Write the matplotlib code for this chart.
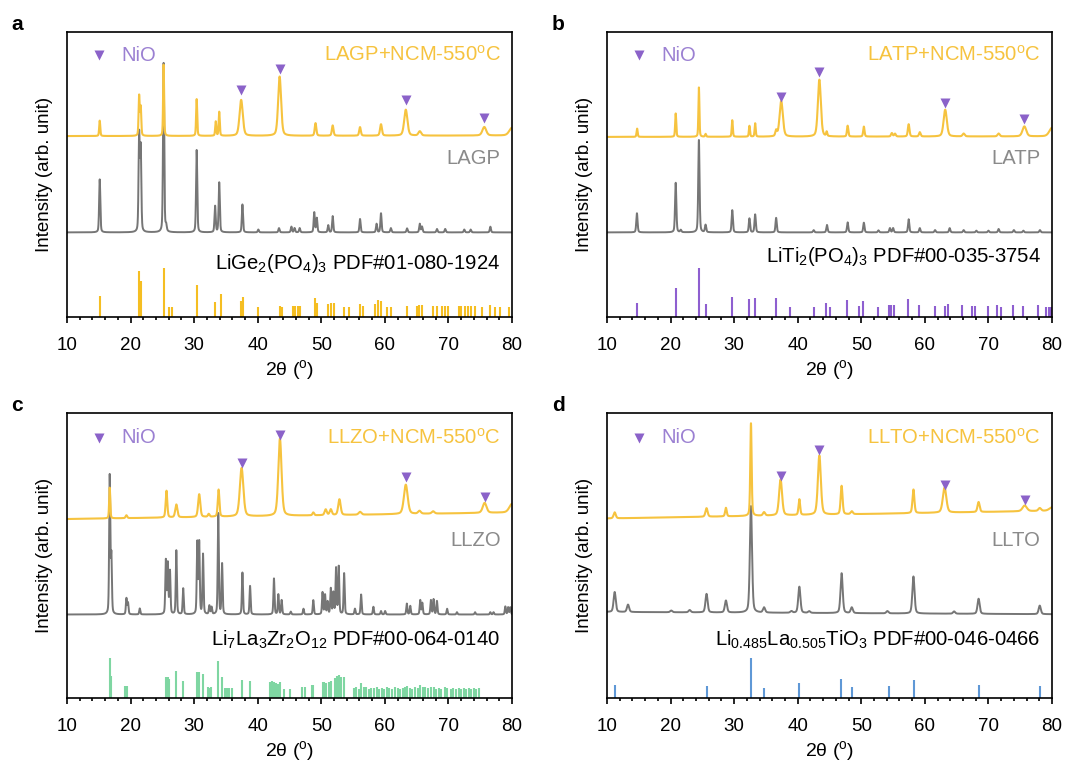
import numpy as np
import matplotlib
matplotlib.use('Agg')
import matplotlib.pyplot as plt
from matplotlib.ticker import MultipleLocator

plt.rcParams['font.family'] = ['Liberation Sans', 'DejaVu Sans']
plt.rcParams['mathtext.fontset'] = 'custom'
plt.rcParams['mathtext.rm'] = 'Liberation Sans'
plt.rcParams['mathtext.it'] = 'Liberation Sans:italic'
plt.rcParams['mathtext.bf'] = 'Liberation Sans:bold'

YELLOW = '#F6C33F'
GRAY = '#767676'
PURPLE = '#8B62C9'
NIO_TXT = '#9B80D2'

# ---------------- panel a : LAGP ----------------
lagp_ncm_pos = [15.15, 21.35, 21.6, 25.2, 30.4, 33.4, 33.95, 37.4, 43.45, 49.1, 51.8, 56.1, 59.4, 63.3, 65.5, 75.65, 80.0]
lagp_ncm_amp = [0.054, 0.14, 0.10, 0.25, 0.129, 0.05, 0.084, 0.126, 0.208, 0.044, 0.036, 0.03, 0.04, 0.091, 0.015, 0.03, 0.027]
lagp_ncm_fw = [0.2, 0.2, 0.2, 0.18, 0.2, 0.2, 0.2, 0.6, 0.55, 0.3, 0.3, 0.3, 0.35, 0.6, 0.5, 0.7, 1.0]
lagp_ncm_base = [0.635, 0.637]

lagp_pos = [15.15, 21.35, 21.6, 25.2, 25.6, 30.4, 33.3, 33.95, 37.6, 40.1, 43.35, 45.3, 45.8, 46.6, 48.9, 49.3, 51.1, 51.8,
            56.1, 58.7, 59.4, 60.95, 63.5, 65.5, 65.85, 68.2, 69.5, 72.5, 73.5, 76.6]
lagp_amp = [0.186, 0.338, 0.29, 0.594, 0.02, 0.289, 0.092, 0.175, 0.098, 0.01, 0.015, 0.02, 0.015, 0.015, 0.07, 0.05, 0.025, 0.057,
            0.047, 0.03, 0.067, 0.015, 0.014, 0.03, 0.02, 0.012, 0.012, 0.01, 0.01, 0.02]
lagp_fw = 0.22
lagp_base = [0.297, 0.297]

lagp_ref_pos = [15.15, 21.35, 21.6, 25.2, 26.1, 26.5, 30.5, 33.3, 34.2, 37.4, 37.75, 40.0, 43.5, 43.9, 45.5, 45.9, 46.3, 46.7,
                49.0, 49.3, 51.1, 51.5, 52.0, 53.6, 54.4, 56.1, 56.5, 58.5, 59.0, 59.4, 60.3, 61.0, 63.5, 65.0, 65.4, 65.8,
                67.6, 68.2, 69.0, 69.5, 70.0, 71.6, 72.0, 72.6, 73.1, 73.6, 74.2, 75.3, 76.6, 77.4, 78.1, 79.6]
lagp_ref_amp = [0.074, 0.161, 0.126, 0.171, 0.035, 0.035, 0.112, 0.054, 0.082, 0.056, 0.07, 0.035, 0.039, 0.035, 0.037, 0.037, 0.037, 0.037,
                0.065, 0.05, 0.045, 0.05, 0.05, 0.035, 0.035, 0.047, 0.04, 0.045, 0.06, 0.055, 0.035, 0.035, 0.04, 0.04, 0.042, 0.042,
                0.039, 0.039, 0.037, 0.037, 0.037, 0.037, 0.037, 0.037, 0.037, 0.037, 0.037, 0.035, 0.042, 0.035, 0.035, 0.035]
lagp_nio_x = [37.4, 43.45, 63.3, 75.6]
lagp_nio_y = [0.796, 0.870, 0.761, 0.697]

# ---------------- panel b : LATP ----------------
latp_ncm_pos = [14.73, 20.8, 24.45, 25.5, 29.7, 32.4, 33.3, 36.6, 37.4, 43.4, 44.55, 47.85, 50.4, 54.8, 55.3, 57.45, 59.2, 63.2,
                66.1, 71.6, 75.65, 80.0]
latp_ncm_amp = [0.029, 0.082, 0.173, 0.01, 0.058, 0.038, 0.047, 0.02, 0.125, 0.2, 0.015, 0.038, 0.035, 0.012, 0.01, 0.043, 0.015, 0.094,
                0.01, 0.01, 0.035, 0.03]
latp_ncm_fw = [0.2, 0.2, 0.18, 0.2, 0.2, 0.2, 0.2, 0.3, 0.6, 0.55, 0.2, 0.25, 0.25, 0.3, 0.3, 0.3, 0.3, 0.6, 0.4, 0.4, 0.7, 1.0]
latp_ncm_base = [0.632, 0.634]

latp_pos = [14.7, 20.8, 21.6, 24.45, 25.5, 29.7, 32.4, 33.3, 36.6, 42.5, 44.6, 47.85, 50.4, 52.7, 54.5, 55.0, 57.45, 59.2,
            61.6, 63.9, 66.1, 68.1, 70.0, 71.6, 74.0, 75.5, 78.1]
latp_amp = [0.067, 0.174, 0.008, 0.324, 0.026, 0.078, 0.049, 0.063, 0.051, 0.008, 0.026, 0.035, 0.034, 0.007, 0.015, 0.015, 0.046, 0.015,
            0.008, 0.015, 0.008, 0.006, 0.006, 0.012, 0.008, 0.006, 0.008]
latp_fw = 0.24
latp_base = [0.297, 0.297]

latp_ref_pos = [14.7, 20.8, 24.45, 25.5, 29.7, 32.4, 33.2, 36.6, 38.85, 42.5, 44.5, 45.1, 47.8, 49.7, 50.2, 52.55, 54.3, 54.7,
                55.1, 57.3, 59.0, 61.6, 63.2, 63.7, 65.9, 67.4, 67.9, 69.9, 71.3, 71.9, 73.9, 75.4, 77.75, 79.1, 79.5, 79.85]
latp_ref_amp = [0.05, 0.103, 0.171, 0.044, 0.071, 0.062, 0.068, 0.068, 0.035, 0.035, 0.05, 0.035, 0.058, 0.039, 0.056, 0.035, 0.042, 0.042,
                0.042, 0.064, 0.042, 0.037, 0.037, 0.044, 0.042, 0.037, 0.037, 0.037, 0.042, 0.035, 0.042, 0.037, 0.042, 0.035, 0.035, 0.035]
latp_nio_x = [37.4, 43.4, 63.2, 75.6]
latp_nio_y = [0.773, 0.861, 0.752, 0.694]

# ---------------- panel c : LLZO ----------------
llzo_ncm_pos = [16.72, 19.35, 25.65, 27.2, 30.8, 32.3, 33.85, 37.47, 43.5, 48.75, 50.7, 51.5, 52.86, 56.1, 63.3, 65.45, 67.6, 75.7, 80.0]
llzo_ncm_amp = [0.108, 0.01, 0.094, 0.045, 0.08, 0.01, 0.095, 0.17, 0.271, 0.01, 0.02, 0.02, 0.055, 0.01, 0.103, 0.01, 0.008, 0.035, 0.03]
llzo_ncm_fw = [0.2, 0.3, 0.3, 0.4, 0.4, 0.3, 0.3, 0.65, 0.6, 0.3, 0.4, 0.4, 0.45, 0.5, 0.7, 0.5, 0.5, 0.7, 1.0]
llzo_ncm_base = [0.628, 0.651]

llzo_pos = [16.72, 16.98, 19.35, 19.6, 21.45, 25.55, 25.86, 26.2, 27.2, 28.28, 30.5, 30.8, 31.4, 32.4, 32.75, 33.8, 34.4, 37.6,
            38.8, 42.56, 43.25, 43.77, 45.2, 47.2, 48.75, 50.2, 50.6, 51.0, 51.5, 51.9, 52.33, 52.75, 53.6, 55.3, 56.27, 58.2,
            59.4, 60.05, 63.46, 64.0, 65.57, 65.9, 67.25, 67.67, 68.2, 69.8, 71.35, 74.2, 76.6, 77.1, 78.96, 79.4, 79.75]
llzo_amp = [0.483, 0.2, 0.056, 0.04, 0.021, 0.188, 0.176, 0.15, 0.224, 0.091, 0.25, 0.25, 0.21, 0.03, 0.025, 0.354, 0.177, 0.147,
            0.1, 0.126, 0.07, 0.05, 0.01, 0.02, 0.05, 0.077, 0.068, 0.044, 0.09, 0.075, 0.161, 0.167, 0.144, 0.02, 0.07, 0.027,
            0.012, 0.012, 0.038, 0.03, 0.05, 0.04, 0.05, 0.053, 0.047, 0.02, 0.008, 0.008, 0.008, 0.008, 0.028, 0.025, 0.025]
llzo_fw = 0.2
llzo_base = [0.293, 0.293]

llzo_ref_pos = [16.72, 16.98, 19.1, 19.5, 25.5, 25.7, 25.9, 26.1, 27.2, 28.3, 30.5, 30.8, 31.4, 32.2, 32.5, 32.7, 33.7, 34.4,
                34.8, 35.2, 35.5, 35.9, 37.6, 38.8, 41.9, 42.2, 42.56, 42.9, 43.2, 43.5, 44.1, 45.1, 47.0, 47.4, 48.5, 48.75,
                50.2, 50.5, 50.8, 51.2, 51.5, 52.2, 52.5, 52.8, 53.1, 53.6, 55.1, 55.5, 55.9, 56.3, 56.7, 57.1, 57.5, 57.9,
                58.3, 58.7, 59.1, 59.5, 59.9, 60.3, 60.7, 61.1, 61.6, 62.0, 62.4, 62.8, 63.2, 63.5, 63.9, 64.3, 64.7, 65.2,
                65.6, 66.0, 66.4, 66.8, 67.3, 67.7, 68.1, 68.5, 68.9, 69.4, 69.8, 70.4, 70.8, 71.2, 71.6, 72.0, 72.4, 72.8,
                73.2, 73.6, 74.0, 74.4, 74.8]
llzo_ref_amp = [0.139, 0.078, 0.043, 0.043, 0.073, 0.07, 0.073, 0.068, 0.096, 0.058, 0.09, 0.092, 0.084, 0.037, 0.034, 0.037, 0.131, 0.073,
                0.034, 0.034, 0.034, 0.034, 0.064, 0.061, 0.055, 0.058, 0.055, 0.052, 0.05, 0.055, 0.033, 0.033, 0.037, 0.037, 0.047, 0.047,
                0.055, 0.055, 0.052, 0.055, 0.058, 0.07, 0.078, 0.08, 0.075, 0.074, 0.035, 0.037, 0.033, 0.052, 0.04, 0.037, 0.033, 0.035,
                0.035, 0.037, 0.033, 0.035, 0.033, 0.037, 0.035, 0.033, 0.037, 0.035, 0.033, 0.035, 0.037, 0.042, 0.035, 0.033, 0.037, 0.035,
                0.045, 0.04, 0.037, 0.035, 0.04, 0.037, 0.033, 0.035, 0.033, 0.037, 0.035, 0.033, 0.035, 0.033, 0.035, 0.033, 0.035, 0.033,
                0.035, 0.033, 0.035, 0.033, 0.035]
llzo_nio_x = [37.47, 43.5, 63.3, 75.7]
llzo_nio_y = [0.824, 0.922, 0.774, 0.707]

# ---------------- panel d : LLTO ----------------
llto_ncm_pos = [11.2, 25.65, 28.7, 32.64, 34.7, 37.3, 40.25, 43.4, 46.9, 48.5, 58.2, 63.1, 68.45, 75.7, 78.07, 80.0]
llto_ncm_amp = [0.021, 0.03, 0.03, 0.325, 0.012, 0.126, 0.055, 0.208, 0.1, 0.01, 0.083, 0.088, 0.035, 0.02, 0.01, 0.012]
llto_ncm_fw = [0.4, 0.4, 0.3, 0.25, 0.4, 0.55, 0.3, 0.55, 0.35, 0.4, 0.35, 0.65, 0.4, 0.8, 0.5, 1.0]
llto_ncm_base = [0.630, 0.657]

llto_pos = [11.2, 13.3, 20.1, 23.0, 25.65, 28.7, 32.64, 34.7, 39.0, 40.25, 41.8, 46.9, 48.5, 54.1, 58.2, 64.6, 68.45, 78.07]
llto_amp = [0.07, 0.026, 0.006, 0.008, 0.065, 0.042, 0.374, 0.018, 0.006, 0.092, 0.006, 0.14, 0.02, 0.008, 0.13, 0.008, 0.053, 0.03]
llto_fw = 0.4
llto_base = [0.302, 0.294]

llto_ref_pos = [11.2, 25.65, 32.64, 34.7, 40.25, 46.8, 48.5, 54.3, 58.3, 68.55, 78.07]
llto_ref_amp = [0.047, 0.043, 0.139, 0.035, 0.051, 0.067, 0.037, 0.042, 0.064, 0.047, 0.043]
llto_nio_x = [37.3, 43.4, 63.1, 75.7]
llto_nio_y = [0.78, 0.87, 0.747, 0.696]

letters = ['a', 'b', 'c', 'd']
titles = [r'LAGP+NCM-550$^{\mathrm{o}}$C', r'LATP+NCM-550$^{\mathrm{o}}$C',
          r'LLZO+NCM-550$^{\mathrm{o}}$C', r'LLTO+NCM-550$^{\mathrm{o}}$C']
names = ['LAGP', 'LATP', 'LLZO', 'LLTO']
refs = [r'LiGe$_2$(PO$_4$)$_3$ PDF#01-080-1924', r'LiTi$_2$(PO$_4$)$_3$ PDF#00-035-3754',
        r'Li$_7$La$_3$Zr$_2$O$_{12}$ PDF#00-064-0140', r'Li$_{0.485}$La$_{0.505}$TiO$_3$ PDF#00-046-0466']
ref_colors = ['#F5BE22', '#8E5FD0', '#7FD6A2', '#5F98D6']
ref_y = [0.188, 0.212, 0.203, 0.205]
title_y = [0.919, 0.919, 0.913, 0.913]


def pattern(x, pos, amp, fw, base):
    # pseudo-Voigt peaks on a straight background
    y = np.linspace(base[0], base[1], x.size)
    fw = np.broadcast_to(np.asarray(fw, dtype=float), (len(pos),))
    for p, a, w in zip(pos, amp, fw):
        g = np.exp(-4 * np.log(2) * ((x - p) / w) ** 2)
        l = 1.0 / (1 + 4 * ((x - p) / w) ** 2)
        y = y + a * (0.35 * l + 0.65 * g)
    return y


panels = [
    (lagp_ncm_pos, lagp_ncm_amp, lagp_ncm_fw, lagp_ncm_base, lagp_pos, lagp_amp, lagp_fw, lagp_base,
     lagp_ref_pos, lagp_ref_amp, lagp_nio_x, lagp_nio_y),
    (latp_ncm_pos, latp_ncm_amp, latp_ncm_fw, latp_ncm_base, latp_pos, latp_amp, latp_fw, latp_base,
     latp_ref_pos, latp_ref_amp, latp_nio_x, latp_nio_y),
    (llzo_ncm_pos, llzo_ncm_amp, llzo_ncm_fw, llzo_ncm_base, llzo_pos, llzo_amp, llzo_fw, llzo_base,
     llzo_ref_pos, llzo_ref_amp, llzo_nio_x, llzo_nio_y),
    (llto_ncm_pos, llto_ncm_amp, llto_ncm_fw, llto_ncm_base, llto_pos, llto_amp, llto_fw, llto_base,
     llto_ref_pos, llto_ref_amp, llto_nio_x, llto_nio_y),
]

fig = plt.figure(figsize=(10.65, 7.65), dpi=100)
boxes = [(0.0629, 0.5856), (0.570, 0.5856), (0.0629, 0.0876), (0.570, 0.0876)]
W, H = 0.4178, 0.3725

x = np.arange(10.0, 80.001, 0.01)

for i, pan in enumerate(panels):
    (tp, ta, tw, tb, gp, ga, gw, gb, rp, ra, nx, ny) = pan
    ax = fig.add_axes([boxes[i][0], boxes[i][1], W, H])

    ax.plot(x, pattern(x, gp, ga, gw, gb), color=GRAY, lw=1.4)
    ax.plot(x, pattern(x, tp, ta, tw, tb), color=YELLOW, lw=1.5)
    ax.vlines(rp, 0, ra, color=ref_colors[i], lw=1.5)
    ax.plot(nx, ny, 'v', color=PURPLE, ms=7, mec='none')

    ax.plot([15.0], [title_y[i]], 'v', color=PURPLE, ms=7, mec='none')
    ax.text(18.6, title_y[i], 'NiO', color=NIO_TXT, fontsize=14.6, va='center', ha='left')
    ax.text(78.2, title_y[i], titles[i], color=YELLOW, fontsize=14.6, va='center', ha='right')
    ax.text(78.2, 0.556 if i < 2 else 0.552, names[i], color='#8A8A8A', fontsize=14.6, va='center', ha='right')
    ax.text(78.2, ref_y[i], refs[i], color='black', fontsize=14.6, va='center', ha='right')

    ax.set_xlim(10, 80)
    ax.set_ylim(0, 1)
    ax.xaxis.set_major_locator(MultipleLocator(10))
    ax.xaxis.set_minor_locator(MultipleLocator(2))
    ax.tick_params(axis='x', which='major', direction='out', length=4.5, width=1.2, labelsize=13.5, pad=10)
    ax.tick_params(axis='x', which='minor', direction='out', length=2.5, width=1.2)
    ax.tick_params(axis='y', left=False, labelleft=False)
    for s in ax.spines.values():
        s.set_linewidth(1.2)
    ax.set_xlabel(r'2θ ($^{\mathrm{o}}$)', fontsize=14, labelpad=3)
    ax.set_ylabel('Intensity (arb. unit)', fontsize=13.5, labelpad=10)

    fig.text(boxes[i][0] - 0.052, boxes[i][1] + H - 0.002, letters[i], fontsize=15, fontweight='bold',
             va='bottom', ha='left')

fig.savefig('out.png', dpi=100)
